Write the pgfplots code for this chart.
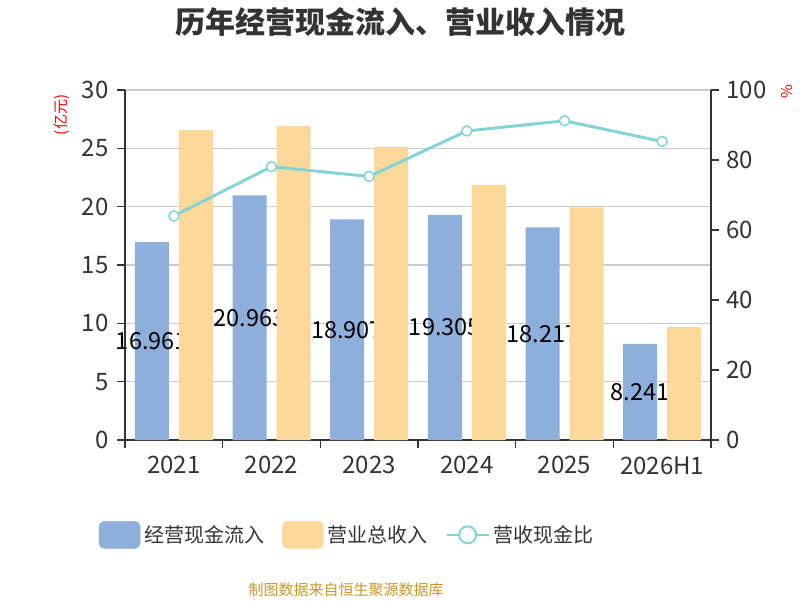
\documentclass[border=0pt]{standalone}
\usepackage{fontspec}
\setmainfont{Noto Sans CJK SC}
\usepackage{pgfplots}
\pgfplotsset{compat=1.18}
\definecolor{cblue}{HTML}{8EAEDB}
\definecolor{corange}{HTML}{FED89A}
\definecolor{cline}{HTML}{84D4D6}
\definecolor{ctext}{HTML}{333333}
\definecolor{cgrid}{HTML}{CCCCCC}
\definecolor{cfoot}{HTML}{C9962C}
\begin{document}
\begin{tikzpicture}
\useasboundingbox (0,0) rectangle (800pt,600pt);
% axis 1: grid, left axis, blue bars with labels
\begin{axis}[
  at={(125pt,160pt)}, anchor=south west,
  width=586pt, height=350pt, scale only axis,
  xmin=-0.5, xmax=5.5, ymin=0, ymax=30,
  axis x line*=bottom, axis y line*=left,
  axis line style={ctext, line width=1.5pt, -},
  xtick={-0.5,0.5,1.5,2.5,3.5,4.5,5.5},
  xticklabels={,,,,,,,},
  extra x ticks={0,1,2,3,4,5},
  extra x tick labels={2021,2022,2023,2024,2025,2026H1},
  extra x tick style={major tick length=0pt, grid=none},
  x tick label style={yshift=-13pt},
  y tick label style={xshift=-5pt},
  ytick={0,5,...,30},
  ymajorgrids, grid style={cgrid, line width=1.2pt},
  tick align=outside, major tick length=8pt,
  tick style={ctext, line width=1.5pt},
  ticklabel style={font=\fontsize{24pt}{28pt}\selectfont, text=ctext},
  /pgf/number format/assume math mode=true,
]
\addplot[ybar, bar width=34pt, bar shift=-22pt, fill=cblue, draw=none,
  point meta=explicit symbolic, nodes near coords,
  visualization depends on={y \as \rawy},
  nodes near coords style={anchor=center, text=black,
    font=\fontsize{23.5pt}{27pt}\selectfont, xshift=-22pt,
    shift={(axis direction cs:0,-0.5*\rawy)}}]
  coordinates {(0,16.961)[16.961] (1,20.963)[20.963] (2,18.907)[18.907]
               (3,19.305)[19.305] (4,18.217)[18.217] (5,8.241)[8.241]};
\end{axis}
% axis 2: orange bars drawn over the labels
\begin{axis}[
  at={(125pt,160pt)}, anchor=south west,
  width=586pt, height=350pt, scale only axis,
  xmin=-0.5, xmax=5.5, ymin=0, ymax=30,
  hide axis,
]
\addplot[ybar, bar width=34pt, bar shift=22pt, fill=corange, draw=none]
  coordinates {(0,26.57) (1,26.91) (2,25.11) (3,21.86) (4,19.94) (5,9.68)};
\end{axis}
% axis 3: right axis, line, legend
\begin{axis}[
  at={(125pt,160pt)}, anchor=south west,
  width=586pt, height=350pt, scale only axis,
  xmin=-0.5, xmax=5.5, ymin=0, ymax=100,
  axis x line=none, axis y line*=right,
  axis line style={ctext, line width=1.5pt, -},
  ytick={0,20,...,100},
  y tick label style={xshift=4pt},
  tick align=outside, major tick length=8pt,
  tick style={ctext, line width=1.5pt},
  ticklabel style={font=\fontsize{24pt}{28pt}\selectfont, text=ctext},
  /pgf/number format/assume math mode=true,
  legend columns=3,
  legend style={at={(0.381,-0.271)}, anchor=center, draw=none, fill=none,
    font=\fontsize{20pt}{24pt}\selectfont, text=ctext,
    nodes={inner xsep=4pt},
    /tikz/every even column/.append style={column sep=14pt}},
]
\addlegendimage{legend image code/.code={\fill[cblue, rounded corners=5pt] (0pt,-13.5pt) rectangle (41pt,13.5pt);}}
\addlegendentry{经营现金流入}
\addlegendimage{legend image code/.code={\fill[corange, rounded corners=5pt] (0pt,-13.5pt) rectangle (41pt,13.5pt);}}
\addlegendentry{营业总收入}
\addplot[cline, line width=3pt, mark=*, mark size=5pt,
  mark options={fill=white, draw=cline, line width=1.5pt},
  legend image code/.code={\draw[cline, line width=2pt] (0pt,0pt) -- (42pt,0pt); \draw[cline, line width=2pt, fill=white] (21pt,0pt) circle (8.5pt);}]
  coordinates {(0,64.0) (1,78.1) (2,75.3) (3,88.3) (4,91.2) (5,85.3)};
\addlegendentry{营收现金比}
\end{axis}
\node[font=\fontsize{30pt}{34pt}\selectfont\bfseries, text=ctext] at (400pt,578pt) {历年经营现金流入、营业收入情况};
\node[rotate=90, text=red, font=\fontsize{15pt}{18pt}\selectfont] at (62pt,485pt) {(亿元)};
\node[rotate=90, text=red, font=\fontsize{15pt}{18pt}\selectfont] at (787pt,508pt) {\%};
\node[text=cfoot, font=\fontsize{15pt}{18pt}\selectfont] at (346pt,10pt) {制图数据来自恒生聚源数据库};
\end{tikzpicture}
\end{document}
